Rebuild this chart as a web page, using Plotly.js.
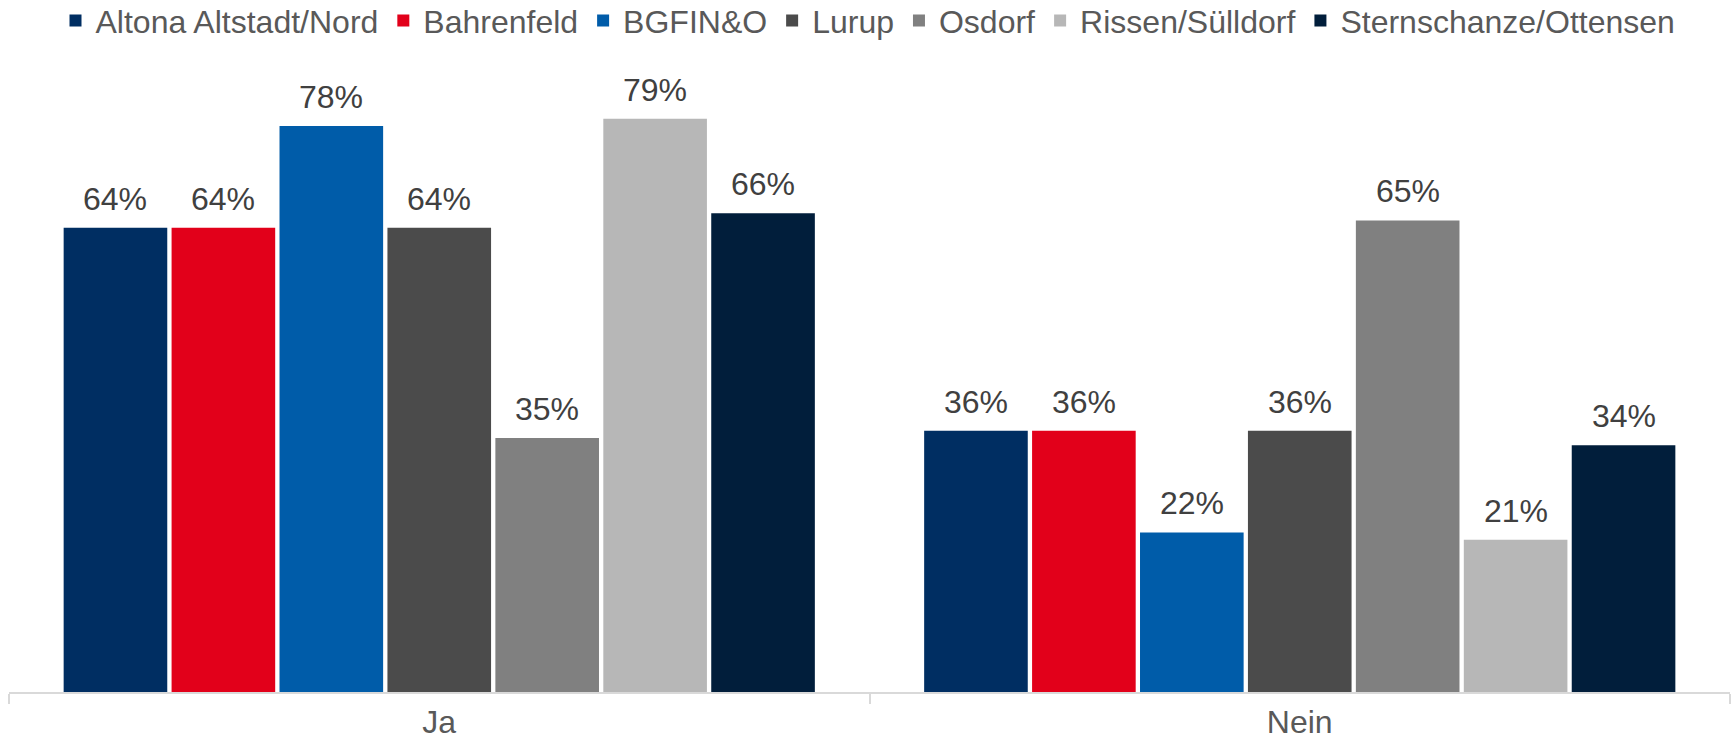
<!DOCTYPE html>
<html>
<head>
<meta charset="utf-8">
<script src="https://cdn.plot.ly/plotly-3.0.1.min.js"></script>
<style>html,body{margin:0;padding:0;background:#fff;}#chart{width:1736px;height:741px;}</style>
</head>
<body>
<div id="chart"></div>
<script>
const categories = ["Ja", "Nein"];
const seriesNames = ["Altona Altstadt/Nord", "Bahrenfeld", "BGFIN&O", "Lurup", "Osdorf", "Rissen/Sülldorf", "Sternschanze/Ottensen"];
const altona = [0.64, 0.36];
const bahrenfeld = [0.64, 0.36];
const bgfino = [0.78, 0.22];
const lurup = [0.64, 0.36];
const osdorf = [0.35, 0.65];
const rissen = [0.79, 0.21];
const sternschanze = [0.66, 0.34];
const seriesValues = [altona, bahrenfeld, bgfino, lurup, osdorf, rissen, sternschanze];
const colors = ["#002E62", "#E2001A", "#005CA9", "#4B4B4B", "#808080", "#B7B7B7", "#011E3B"];

const FONT = "Liberation Sans, Arial, sans-serif";
const bargap = 0.122;
const bargroupgap = 0.04;

const traces = seriesNames.map((name, k) => ({
  type: "bar",
  name: name,
  x: categories,
  y: seriesValues[k],
  marker: {color: colors[k]},
  hoverinfo: "none"
}));

const n = seriesNames.length;
const slot = (1 - bargap) / n;
const annotations = [];
seriesValues.forEach((vals, k) => {
  vals.forEach((v, i) => {
    annotations.push({
      x: i - (1 - bargap) / 2 + (k + 0.5) * slot,
      y: v,
      xref: "x", yref: "y",
      text: Math.round(v * 100) + "%",
      showarrow: false,
      yanchor: "bottom",
      yshift: 9,
      font: {family: FONT, size: 32, color: "#404040"}
    });
  });
});

const layout = {
  width: 1736, height: 741,
  margin: {l: 9, r: 6, t: 39, b: 49, autoexpand: false},
  paper_bgcolor: "#fff", plot_bgcolor: "#fff",
  barmode: "group",
  bargap: bargap,
  bargroupgap: bargroupgap,
  font: {family: FONT, color: "#595959", size: 32},
  showlegend: true,
  legend: {
    orientation: "h", x: 0.5, xanchor: "center", xref: "container", y: 1.07, yref: "paper", yanchor: "top",
    font: {family: FONT, size: 32, color: "#595959"},
    traceorder: "normal"
  },
  xaxis: {
    type: "category",
    showline: true, linecolor: "#D9D9D9", linewidth: 2,
    ticks: "outside", tickson: "boundaries", ticklen: 10, tickcolor: "#D9D9D9", tickwidth: 2,
    tickfont: {family: FONT, size: 32, color: "#595959"},
    ticklabelstandoff: 1,
    showgrid: false, zeroline: false, fixedrange: true
  },
  yaxis: {
    range: [0, 0.9], visible: false, showgrid: false, zeroline: false, fixedrange: true
  },
  annotations: annotations
};

Plotly.newPlot("chart", traces, layout, {displayModeBar: false, staticPlot: true});
</script>
</body>
</html>
